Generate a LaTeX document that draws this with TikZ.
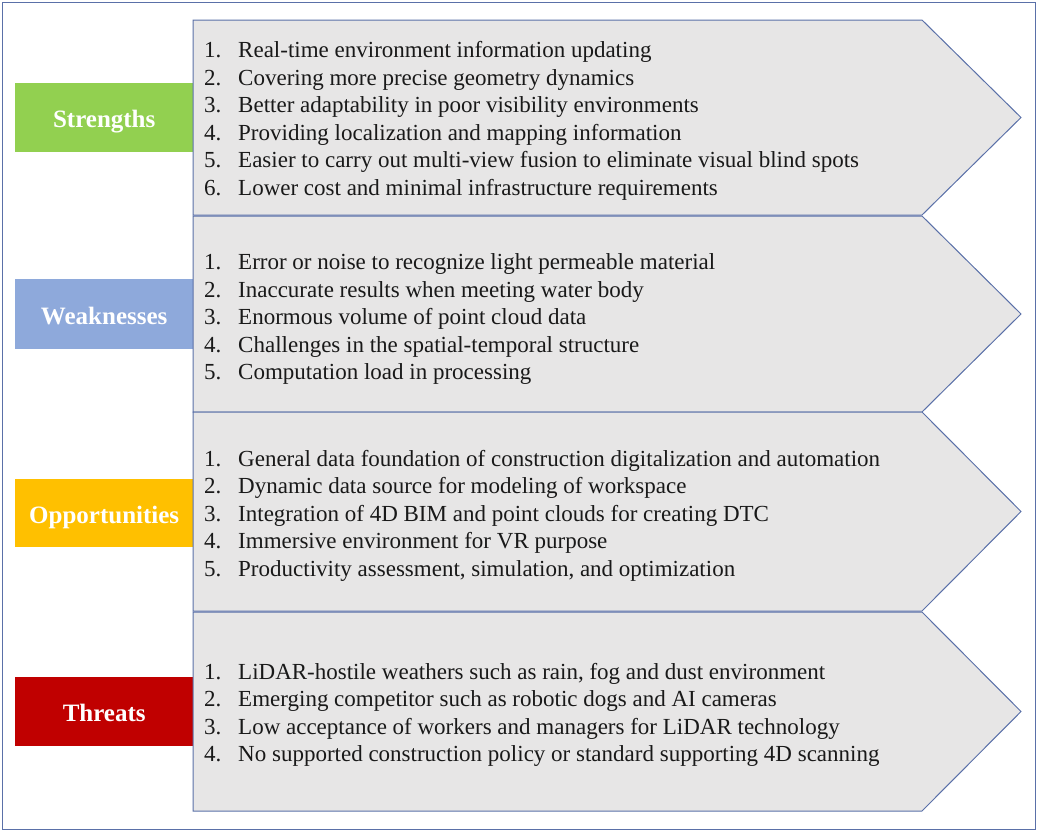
\documentclass[tikz,border=0pt]{standalone}
\usepackage{fontspec}
\setmainfont{Liberation Serif}
\begin{document}
\begin{tikzpicture}[x=1pt,y=-1pt,
  framecol/.style={draw=edgeblue,line width=1.1pt},
  chev/.style={draw=edgeblue,fill=chevgray,line width=1pt,line join=miter},
  tag/.style={anchor=north west,minimum width=178pt,inner sep=0pt,text=white,
    text height=20pt,text depth=0pt,
    font=\fontsize{25}{30}\selectfont\bfseries},
  items/.style={anchor=west,inner sep=0pt,align=left,text=black!90,
    font=\fontsize{23}{27.5}\selectfont}]
\definecolor{edgeblue}{HTML}{5A70A8}
\definecolor{chevgray}{HTML}{E7E6E6}
\definecolor{sgreen}{HTML}{92D050}
\definecolor{wblue}{HTML}{8EA9DB}
\definecolor{oyellow}{HTML}{FFC000}
\definecolor{tred}{HTML}{C00000}
\newcommand{\itm}[2]{\makebox[34pt][l]{#1}#2}
\useasboundingbox (0,0) rectangle (1041,833);
\draw[framecol] (2.5,2.5) rectangle (1035.5,829.5);

% coloured category tags, partly tucked under the chevrons
\node[tag,fill=sgreen,minimum height=69pt] (s) at (15,83) {Strengths};
\node[tag,fill=wblue,minimum height=70pt] (w) at (15,279) {Weaknesses};
\node[tag,fill=oyellow,minimum height=68pt] (o) at (15,479) {Opportunities};
\node[tag,fill=tred,minimum height=69pt] (t) at (15,677) {Threats};

% chevron panels
\foreach \top/\bot in {20/215, 216/412, 412/611, 612/811}{
  \draw[chev] (193,\top) -- (922,\top) -- (1021,{(\top+\bot)/2}) -- (922,\bot) -- (193,\bot) -- cycle;
}

\node[items] (sl) at (204,121) {\itm{1.}{Real-time environment information updating}\\
\itm{2.}{Covering more precise geometry dynamics}\\
\itm{3.}{Better adaptability in poor visibility environments}\\
\itm{4.}{Providing localization and mapping information}\\
\itm{5.}{Easier to carry out multi-view fusion to eliminate visual blind spots}\\
\itm{6.}{Lower cost and minimal infrastructure requirements}};

\node[items] (wl) at (204,319) {\itm{1.}{Error or noise to recognize light permeable material}\\
\itm{2.}{Inaccurate results when meeting water body}\\
\itm{3.}{Enormous volume of point cloud data}\\
\itm{4.}{Challenges in the spatial-temporal structure}\\
\itm{5.}{Computation load in processing}};

\node[items] (ol) at (204,515.5) {\itm{1.}{General data foundation of construction digitalization and automation}\\
\itm{2.}{Dynamic data source for modeling of workspace}\\
\itm{3.}{Integration of 4D BIM and point clouds for creating DTC}\\
\itm{4.}{Immersive environment for VR purpose}\\
\itm{5.}{Productivity assessment, simulation, and optimization}};

\node[items] (tl) at (204,715) {\itm{1.}{LiDAR-hostile weathers such as rain, fog and dust environment}\\
\itm{2.}{Emerging competitor such as robotic dogs and AI cameras}\\
\itm{3.}{Low acceptance of workers and managers for LiDAR technology}\\
\itm{4.}{No supported construction policy or standard supporting 4D scanning}};
\end{tikzpicture}
\end{document}
